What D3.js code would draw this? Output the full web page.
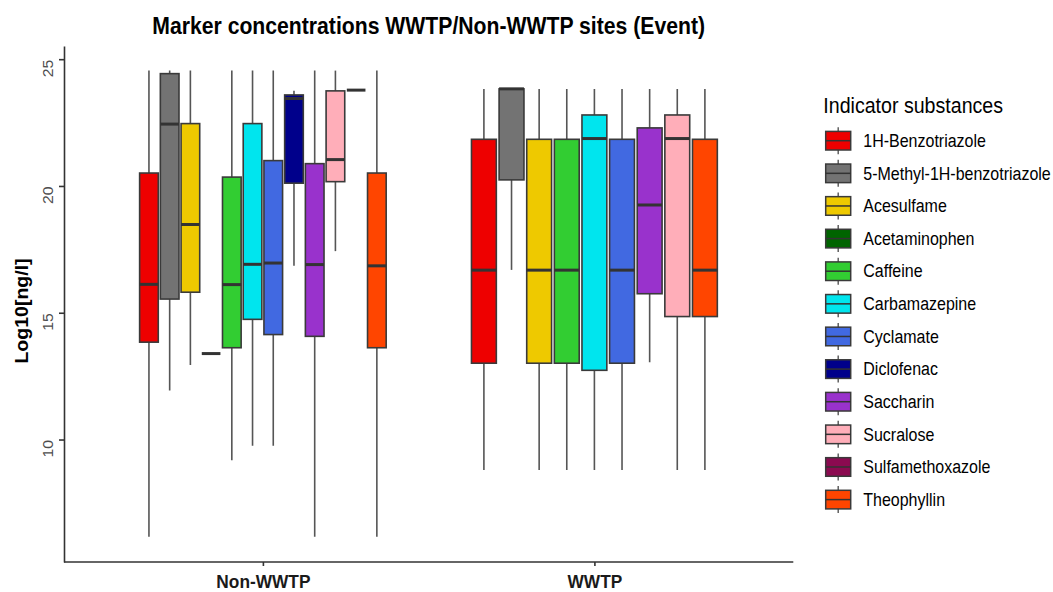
<!DOCTYPE html>
<html>
<head>
<meta charset="utf-8">
<script src="https://cdn.jsdelivr.net/npm/d3@7"></script>
<style>
  html, body { margin: 0; padding: 0; background: #fff; }
  svg { display: block; font-family: "Liberation Sans", Arial, sans-serif; }
</style>
</head>
<body>
<svg id="chart" width="1053" height="592"></svg>
<script>
// Site groups on the x axis
const sites = ["Non-WWTP", "WWTP"];

// Indicator substances (legend order) and their fill colours
const substances = [
  "1H-Benzotriazole", "5-Methyl-1H-benzotriazole", "Acesulfame", "Acetaminophen",
  "Caffeine", "Carbamazepine", "Cyclamate", "Diclofenac", "Saccharin",
  "Sucralose", "Sulfamethoxazole", "Theophyllin"
];
const fills = [
  "#EE0000", "#737373", "#EEC900", "#006400", "#32CD32", "#00E5EE",
  "#4169E1", "#00008B", "#9932CC", "#FFAEB9", "#8B0A50", "#FF4500"
];

// Box statistics per substance: [lower whisker, Q1, median, Q3, upper whisker]
// null = substance not measured at that site type
const nonWwtpStats = [
  [6.17, 13.84, 16.12, 20.51, 24.55],
  [11.93, 15.54, 22.44, 24.43, 24.55],
  [12.94, 15.81, 18.48, 22.46, 24.55],
  [13.39, 13.39, 13.39, 13.39, 13.39],
  [9.18, 13.62, 16.11, 20.35, 24.55],
  [9.75, 14.74, 16.91, 22.46, 24.55],
  [9.75, 14.14, 16.96, 21.00, 24.55],
  [16.85, 20.11, 23.45, 23.59, 23.76],
  [6.17, 14.07, 16.90, 20.88, 24.55],
  [17.43, 20.17, 21.04, 23.75, 24.55],
  [23.78, 23.78, 23.78, 23.78, 23.78],
  [6.17, 13.62, 16.85, 20.51, 24.55]
];
const wwtpStats = [
  [8.80, 13.01, 16.68, 21.84, 23.82],
  [16.69, 20.24, 23.83, 23.83, 23.83],
  [8.80, 13.01, 16.68, 21.84, 23.82],
  null,
  [8.80, 13.01, 16.68, 21.84, 23.82],
  [8.80, 12.73, 21.87, 22.80, 23.82],
  [8.80, 13.01, 16.68, 21.84, 23.82],
  null,
  [13.05, 15.75, 19.25, 22.29, 23.82],
  [8.80, 14.85, 21.87, 22.80, 23.82],
  null,
  [8.80, 14.85, 16.68, 21.84, 23.82]
];

// Y axis ticks
const yTicks = [10, 15, 20, 25];

const titleText = "Marker concentrations WWTP/Non-WWTP sites (Event)";
const yTitleText = "Log10[ng/l]";
const legendTitleText = "Indicator substances";

// ---- layout ----
const svg = d3.select("#chart");
const panel = { left: 64, right: 793.3, top: 46, bottom: 562 };
const FONT = "'Liberation Sans', Arial, sans-serif";
const STRETCH = 1.09; // glyphs are drawn slightly taller than wide

const x = d3.scaleLinear().domain([0.4, 2.6]).range([panel.left, panel.right]);
const y = d3.scaleLinear().domain([5.17, 25.52]).range([panel.bottom, panel.top]);

const groupStats = [nonWwtpStats, wwtpStats];
const dodgeWidth = 0.75;

// Flatten into drawable boxes with dodge positions
const boxes = [];
groupStats.forEach((stats, gi) => {
  const present = stats.map((s, i) => ({ s, i })).filter(d => d.s);
  const slot = dodgeWidth / present.length;
  present.forEach((d, k) => {
    const cx = (gi + 1) - dodgeWidth / 2 + slot * (k + 0.5);
    boxes.push({
      site: sites[gi], name: substances[d.i], fill: fills[d.i],
      cx, half: slot * 0.9 / 2,
      lo: d.s[0], q1: d.s[1], med: d.s[2], q3: d.s[3], hi: d.s[4]
    });
  });
});

const plot = svg.append("g");

// whiskers
plot.selectAll("line.whisker").data(boxes).enter().append("line")
  .attr("class", "whisker")
  .attr("x1", d => x(d.cx)).attr("x2", d => x(d.cx))
  .attr("y1", d => y(d.lo)).attr("y2", d => y(d.hi))
  .attr("stroke", "#555").attr("stroke-width", 1.6);

// boxes
plot.selectAll("rect.box").data(boxes).enter().append("rect")
  .attr("class", "box")
  .attr("x", d => x(d.cx - d.half))
  .attr("width", d => x(d.cx + d.half) - x(d.cx - d.half))
  .attr("y", d => y(d.q3))
  .attr("height", d => y(d.q1) - y(d.q3))
  .attr("fill", d => d.fill)
  .attr("stroke", "#3a3a3a").attr("stroke-width", 1.6);

// medians
plot.selectAll("line.median").data(boxes).enter().append("line")
  .attr("class", "median")
  .attr("x1", d => x(d.cx - d.half)).attr("x2", d => x(d.cx + d.half))
  .attr("y1", d => y(d.med)).attr("y2", d => y(d.med))
  .attr("stroke", "#333").attr("stroke-width", 3);

// ---- axes ----
const yAxis = d3.axisLeft(y).tickValues(yTicks).tickSize(5).tickSizeOuter(0).tickFormat(d3.format("d"));
const gy = svg.append("g").attr("transform", `translate(${panel.left},0)`).call(yAxis);
gy.select(".domain").attr("stroke", "#333").attr("stroke-width", 1.6);
gy.selectAll(".tick line").attr("stroke", "#333").attr("stroke-width", 1.6);
gy.selectAll(".tick text")
  .attr("font-family", FONT).attr("font-size", 14.5).attr("fill", "#4D4D4D")
  .attr("text-anchor", "end").attr("dy", null).attr("x", null)
  .attr("transform", `translate(-11,0) rotate(-90) scale(${STRETCH},1)`)
  .attr("dominant-baseline", "auto");

const xAxis = d3.axisBottom(x).tickValues([1, 2]).tickSize(4).tickSizeOuter(0)
  .tickFormat(d => sites[d - 1]);
const gx = svg.append("g").attr("transform", `translate(0,${panel.bottom})`).call(xAxis);
gx.select(".domain").attr("stroke", "#333").attr("stroke-width", 1.6)
  .attr("d", `M${panel.left},0H${panel.right}`);
gx.selectAll(".tick line").attr("stroke", "#333").attr("stroke-width", 1.6);
gx.selectAll(".tick text")
  .attr("font-family", FONT).attr("font-size", 17.3).attr("font-weight", "bold")
  .attr("fill", "#1a1a1a").attr("dy", null).attr("y", null)
  .attr("transform", `translate(0,26) scale(1,${STRETCH})`);

// ---- titles ----
svg.append("text")
  .attr("transform", `translate(${(panel.left + panel.right) / 2},34.3) scale(1,${STRETCH})`)
  .attr("text-anchor", "middle")
  .attr("font-family", FONT).attr("font-size", 21.2).attr("font-weight", "bold")
  .attr("fill", "#000")
  .text(titleText);

svg.append("text")
  .attr("transform", `translate(28.3,${(panel.top + panel.bottom) / 2 + 7}) rotate(-90) scale(${STRETCH},1)`)
  .attr("text-anchor", "middle")
  .attr("font-family", FONT).attr("font-size", 17.9).attr("font-weight", "bold")
  .attr("fill", "#000")
  .text(yTitleText);

// ---- legend ----
const legend = svg.append("g");
legend.append("text")
  .attr("transform", `translate(823.3,113.3) scale(1,${STRETCH})`)
  .attr("font-family", FONT).attr("font-size", 19.6).attr("fill", "#000")
  .text(legendTitleText);

const keyY = d3.scalePoint().domain(substances).range([140.7, 499.6]);
const items = legend.selectAll("g.item").data(substances).enter().append("g")
  .attr("class", "item")
  .attr("transform", d => `translate(0,${keyY(d)})`);
items.append("line")
  .attr("x1", 838.2).attr("x2", 838.2).attr("y1", -13.5).attr("y2", 13.5)
  .attr("stroke", "#555").attr("stroke-width", 1.4);
items.append("rect")
  .attr("x", 825.7).attr("y", -9.3).attr("width", 25).attr("height", 18.6)
  .attr("fill", (d, i) => fills[i]).attr("stroke", "#3a3a3a").attr("stroke-width", 1.5);
items.append("line")
  .attr("x1", 825.7).attr("x2", 850.7).attr("y1", 0).attr("y2", 0)
  .attr("stroke", "#333").attr("stroke-width", 1.5);
items.append("text")
  .attr("transform", `translate(863.3,6.2) scale(1,${STRETCH})`)
  .attr("font-family", FONT).attr("font-size", 16).attr("fill", "#000")
  .text(d => d);
</script>
</body>
</html>
